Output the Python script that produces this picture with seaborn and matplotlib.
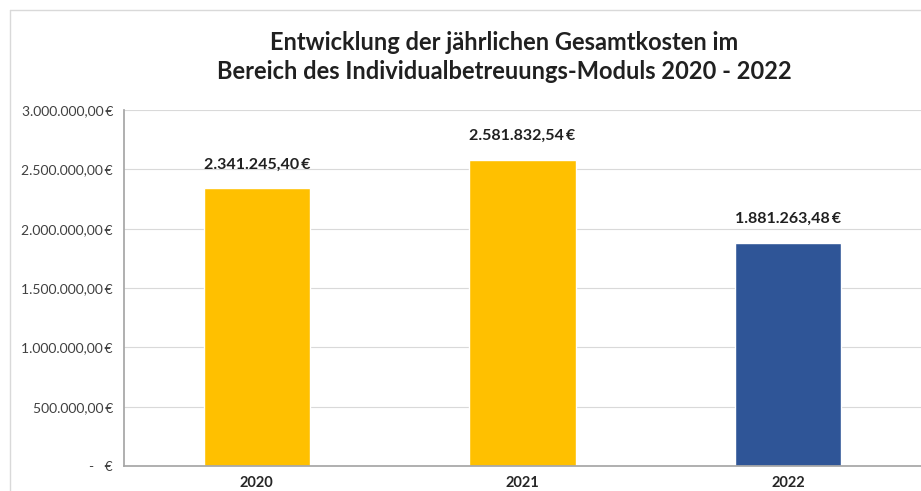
import seaborn as sns
import matplotlib.pyplot as plt
import matplotlib.ticker as mticker
import pandas as pd

years = ["2020", "2021", "2022"]
kosten = [2341245.40, 2581832.54, 1881263.48]
bar_colors = ["#FFC000", "#FFC000", "#2F5597"]
title = "Entwicklung der jährlichen Gesamtkosten im\nBereich des Individualbetreuungs-Moduls 2020 - 2022"

sns.set_theme(style="white")
plt.rcParams['font.family'] = ['Lato', 'DejaVu Sans']


def euro(v):
    '''German style currency text'''
    s = "{:,.2f}".format(v).replace(",", "X").replace(".", ",").replace("X", ".")
    return s + "\u2009€"


def euro_tick(v, pos):
    if abs(v) < 1e-6:
        return "-   €"
    return euro(v)


df = pd.DataFrame({'Jahr': years, 'Kosten': kosten})

fig = plt.figure(figsize=(9.21, 4.91), dpi=100)
ax = fig.add_axes([124 / 921, 25 / 491, 1 - 124 / 921, 356 / 491])

sns.barplot(data=df, x='Jahr', y='Kosten', hue='Jahr', palette=bar_colors,
            width=0.4, legend=False, ax=ax, saturation=1)

ax.set_ylim(0, 3000000)
ax.set_xlim(-0.5, 2.5)
ax.yaxis.set_major_locator(mticker.MultipleLocator(500000))
ax.yaxis.set_major_formatter(mticker.FuncFormatter(euro_tick))
ax.grid(axis='y', color='#D9D9D9', lw=0.8)
ax.set_axisbelow(True)
ax.set_xlabel('')
ax.set_ylabel('')

for side in ['top', 'right']:
    ax.spines[side].set_visible(False)
ax.spines['left'].set_color('#A6A6A6')
ax.spines['bottom'].set_color('#A6A6A6')
ax.tick_params(axis='y', length=5, color='#A6A6A6', labelsize=10, labelcolor='#404040', pad=3)
ax.tick_params(axis='x', length=0, labelsize=10.5, pad=7)
for lbl in ax.get_xticklabels():
    lbl.set_fontweight('bold')

# value labels above the bars
for i, v in enumerate(kosten):
    ax.annotate(euro(v), (i, v), xytext=(0, 12), textcoords='offset points',
                ha='center', va='bottom', fontsize=11.5, fontweight='bold', color='#202020')

fig.text(504 / 921, 1 - 57 / 491, title, ha='center', va='center', fontsize=17,
         fontweight='bold', color='#202020', linespacing=1.3)

# chart frame (cropped on right and bottom)
fig.add_artist(plt.Line2D([10 / 921, 10 / 921], [0, 1 - 10 / 491], color='#D9D9D9', lw=1))
fig.add_artist(plt.Line2D([10 / 921, 1], [1 - 10 / 491, 1 - 10 / 491], color='#D9D9D9', lw=1))

plt.savefig('out.png', dpi=100)
